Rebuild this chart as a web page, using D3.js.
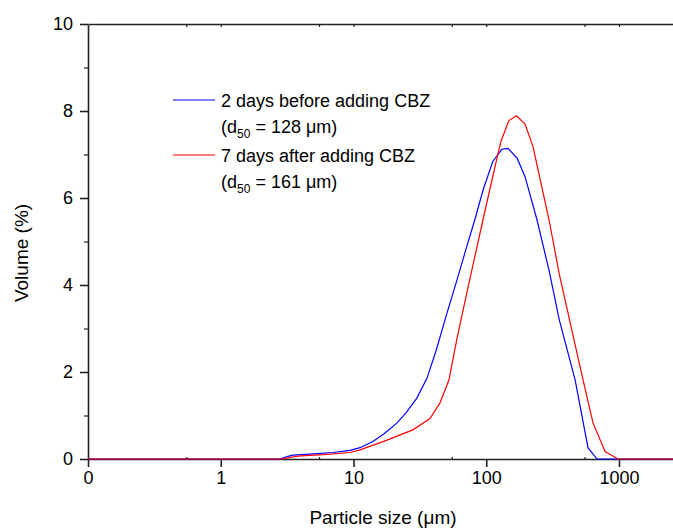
<!DOCTYPE html>
<html>
<head>
<meta charset="utf-8">
<script src="https://cdn.jsdelivr.net/npm/d3@7"></script>
<style>
  body { margin: 0; background: #fff; }
  text { font-family: Arial, "Liberation Sans", sans-serif; fill: #000; }
</style>
</head>
<body>
<script>
// particle size (um) and volume (%)
var sizesBefore = [0.1, 2.8, 3.2, 3.5, 5, 7, 9.4, 11.2, 14, 17, 21.3, 25, 30, 35.8, 42, 50, 60, 70, 82, 95, 112, 131, 146, 171, 196, 241, 297, 355, 467, 584, 683, 3500]
var volBefore = [0, 0, 0.06, 0.09, 0.12, 0.15, 0.2, 0.26, 0.4, 0.58, 0.83, 1.07, 1.4, 1.86, 2.5, 3.3, 4.1, 4.8, 5.5, 6.2, 6.84, 7.12, 7.14, 6.91, 6.49, 5.5, 4.34, 3.2, 1.82, 0.26, 0, 0]

var sizesAfter = [0.1, 2.94, 3.5, 4, 6, 9.4, 11.2, 16.7, 28, 37.7, 44.8, 52.4, 60, 70, 82, 94.5, 112, 129, 148, 169, 196, 225, 260, 297, 355, 450, 536, 637, 785, 982, 3500]
var volAfter = [0, 0, 0.05, 0.07, 0.1, 0.15, 0.21, 0.4, 0.67, 0.93, 1.29, 1.82, 2.75, 3.7, 4.65, 5.5, 6.5, 7.3, 7.78, 7.89, 7.7, 7.18, 6.3, 5.5, 4.25, 2.85, 1.82, 0.83, 0.17, 0, 0]

var xMajor = [0.1, 1, 10, 100, 1000]
var xMinor = [0.55, 5.5, 55, 550]
var yMajor = [0, 2, 4, 6, 8, 10]
var yMinor = [1, 3, 5, 7, 9]

var legendLines = [
  ['2 days before adding CBZ', '128'],
  ['7 days after adding CBZ', '161']
]
var colors = ['#0000ff', '#ff0000']

var width = 673
var height = 530
var margin = { top: 24, left: 88, bottom: 71 }

var svg = d3.select('body').append('svg')
  .attr('width', width)
  .attr('height', height)

var x = d3.scaleLog()
  .domain([0.1, Math.pow(10, 3.5)])
  .range([margin.left, margin.left + 132.75 * 4.5])

var y = d3.scaleLinear()
  .domain([0, 10])
  .range([height - margin.bottom, margin.top])

var x0 = margin.left
var y0 = y(0)

var line = d3.line()
  .x(function (d) { return x(d[0]) })
  .y(function (d) { return y(d[1]) })

var series = [
  d3.zip(sizesBefore, volBefore),
  d3.zip(sizesAfter, volAfter)
]

// top axis, ticks pointing inside
var topAxis = svg.append('g')
  .attr('transform', 'translate(0,' + margin.top + ')')
  .call(d3.axisTop(x)
    .tickValues(xMajor.concat(xMinor).filter(function (d) { return d > 0.1 }))
    .tickSize(-3)
    .tickSizeOuter(0)
    .tickFormat(''))
topAxis.select('.domain').attr('stroke', '#222').attr('stroke-width', 1.6)
topAxis.selectAll('.tick line').attr('stroke', '#222').attr('stroke-width', 1.2)

// bottom axis
var bottomAxis = svg.append('g')
  .attr('transform', 'translate(0,' + y0 + ')')
  .call(d3.axisBottom(x)
    .tickValues(xMajor)
    .tickSize(8)
    .tickSizeOuter(0)
    .tickPadding(4)
    .tickFormat(function (d) { return d < 1 ? '0' : d3.format('d')(d) }))
bottomAxis.select('.domain').attr('stroke', '#222').attr('stroke-width', 1.6)
bottomAxis.selectAll('.tick line').attr('stroke', '#222').attr('stroke-width', 1.6)
bottomAxis.selectAll('text').style('font-size', '18px')

svg.append('g')
  .attr('transform', 'translate(0,' + y0 + ')')
  .call(d3.axisBottom(x)
    .tickValues(xMinor)
    .tickSize(-2)
    .tickSizeOuter(0)
    .tickFormat(''))
  .call(function (g) { g.select('.domain').remove() })
  .selectAll('.tick line').attr('stroke', '#222').attr('stroke-width', 1.2)

// left axis
var leftAxis = svg.append('g')
  .attr('transform', 'translate(' + x0 + ',0)')
  .call(d3.axisLeft(y)
    .tickValues(yMajor)
    .tickSize(8)
    .tickSizeOuter(0)
    .tickPadding(7)
    .tickFormat(d3.format('d')))
leftAxis.select('.domain').attr('stroke', '#222').attr('stroke-width', 1.6)
leftAxis.selectAll('.tick line').attr('stroke', '#222').attr('stroke-width', 1.6)
leftAxis.selectAll('text').style('font-size', '18px')

svg.append('g')
  .attr('transform', 'translate(' + x0 + ',0)')
  .call(d3.axisLeft(y)
    .tickValues(yMinor)
    .tickSize(4)
    .tickSizeOuter(0)
    .tickFormat(''))
  .call(function (g) { g.select('.domain').remove() })
  .selectAll('.tick line').attr('stroke', '#222').attr('stroke-width', 1.2)

// curves
svg.selectAll('.curve')
  .data(series)
  .enter().append('path')
  .attr('class', 'curve')
  .attr('fill', 'none')
  .attr('stroke', function (d, i) { return colors[i] })
  .attr('stroke-width', 1.2)
  .attr('d', line)

// axis titles
var xt = svg.append('text')
  .attr('x', 383)
  .attr('y', 524)
  .attr('text-anchor', 'middle')
  .style('font-size', '19px')
xt.append('tspan').text('Particle size (')
xt.append('tspan').text('\u03bc')
xt.append('tspan').text('m)')

svg.append('text')
  .attr('transform', 'translate(28,253) rotate(-90)')
  .attr('text-anchor', 'middle')
  .style('font-size', '19px')
  .text('Volume (%)')

// legend
var legend = svg.append('g')
legendLines.forEach(function (l, i) {
  var ly = 100 + i * 55
  legend.append('line')
    .attr('x1', 173).attr('x2', 215)
    .attr('y1', ly).attr('y2', ly)
    .attr('stroke', colors[i])
    .attr('stroke-width', 1.2)
  legend.append('text')
    .attr('x', 221).attr('y', ly + 7)
    .style('font-size', '18px')
    .text(l[0])
  var t = legend.append('text')
    .attr('x', 221).attr('y', ly + 33)
    .style('font-size', '18px')
  t.append('tspan').text('(d')
  t.append('tspan').attr('dy', 5).style('font-size', '12px').text('50')
  t.append('tspan').attr('dy', -5).text(' = ' + l[1] + ' \u03bcm)')
})
</script>
</body>
</html>
